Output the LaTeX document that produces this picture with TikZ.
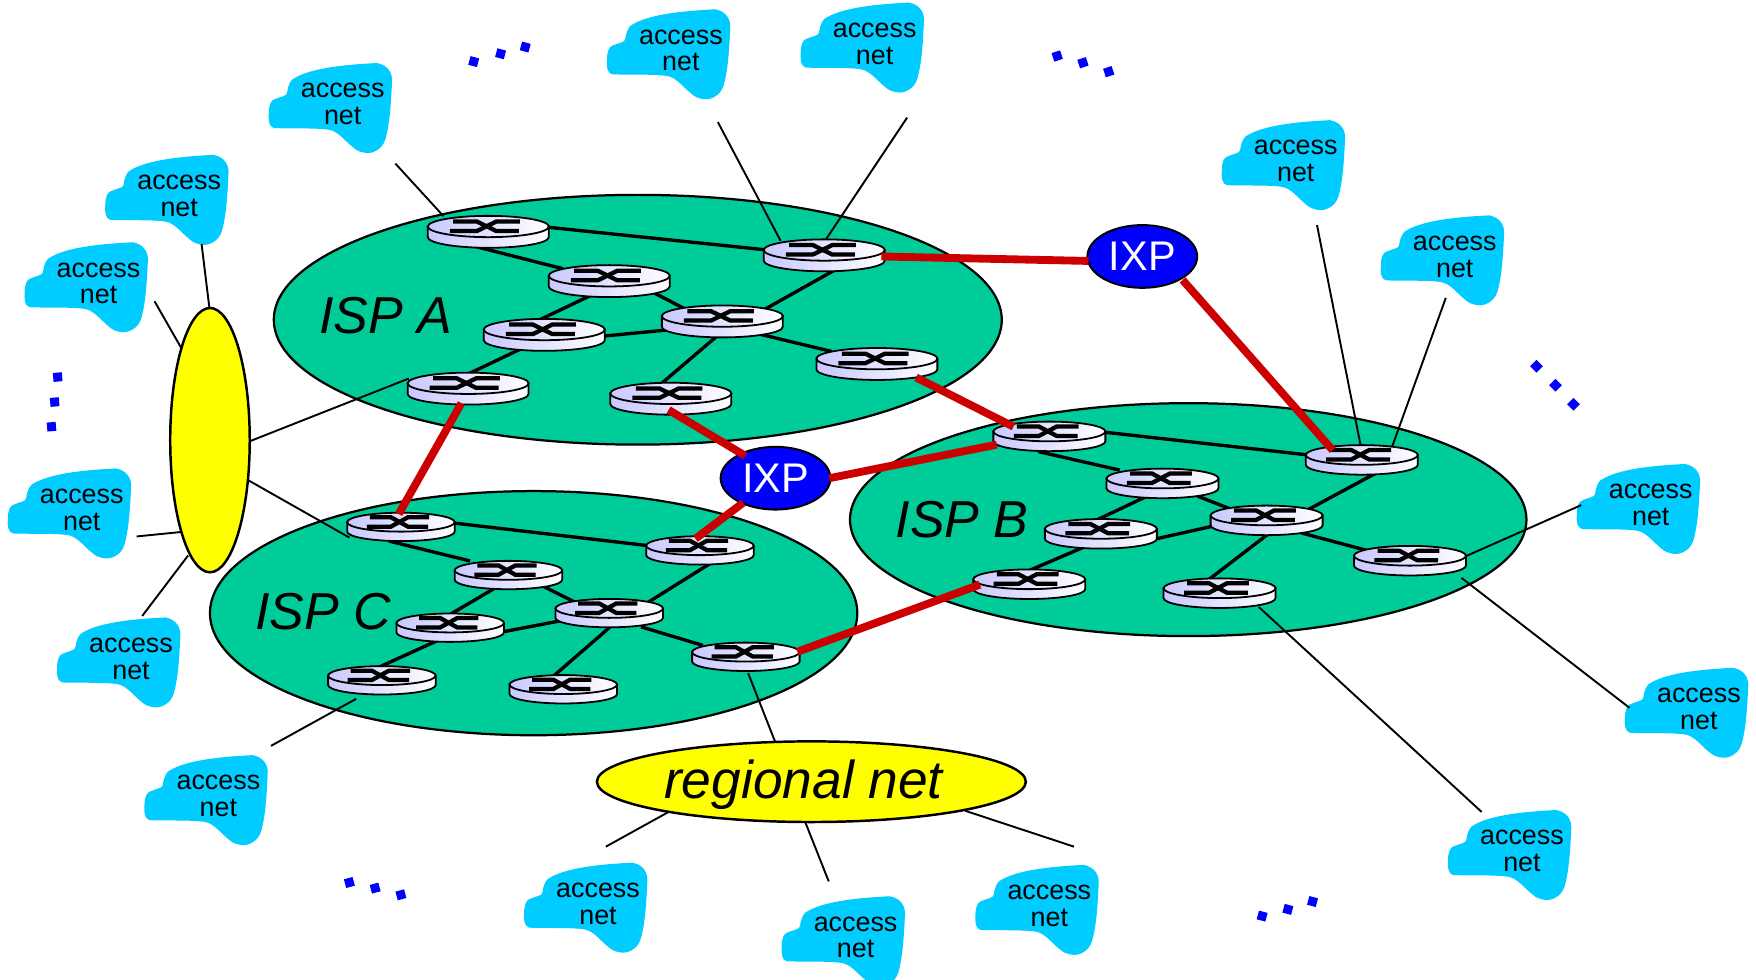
\documentclass[tikz,border=0pt]{standalone}
\usepackage{fontspec}
\setmainfont{Liberation Sans}
\usetikzlibrary{shapes.geometric}
\definecolor{ispgreen}{HTML}{00CC99}
\definecolor{cloudblue}{HTML}{00CCFF}
\definecolor{linkred}{HTML}{CC0000}
\definecolor{routerlav}{HTML}{C8C8FF}
\definecolor{ixpblue}{HTML}{0000FF}
\definecolor{netyellow}{HTML}{FFFF00}
\tikzset{
  ispnet/.style={shape=ellipse,draw=black,line width=1pt,fill=ispgreen,inner sep=0pt},
  yellownet/.style={shape=ellipse,draw=black,line width=1.1pt,fill=netyellow,inner sep=0pt},
  ixpnode/.style={shape=ellipse,draw=black,line width=.9pt,fill=ixpblue,inner sep=0pt,minimum width=49pt,minimum height=28pt,text=white,font=\fontsize{18.5}{18.5}\selectfont},
  isplabel/.style={inner sep=0pt,font=\fontsize{23.2}{23.2}\selectfont\itshape},
  accesslabel/.style={inner sep=0pt,align=center,font=\fontsize{12}{12}\selectfont},
  routerbox/.style={shape=rectangle,inner sep=0pt,minimum height=14.5pt},
  corelink/.style={line width=1.5pt,black,shorten <=-4pt,shorten >=-4pt},
  thinlink/.style={line width=.85pt,black},
  redlink/.style={line width=3.5pt,linkred},
  blueDot/.style={fill=ixpblue,inner sep=0pt,minimum size=4pt,shape=rectangle}
}
\newcommand{\plink}[7]{\draw[#1] ([shift={(#3,#4)}]#2.center) -- ([shift={(#6,#7)}]#5.center);}
% cloud: name, x, y
\newcommand{\accessnet}[3]{%
  \fill[cloudblue,shift={(#2,#3-2)}] (30.6,-32.7) .. controls (40,-31) and (45,-24) .. (44,-15)
    .. controls (43,5) and (42,22) .. (38,35.7)
    .. controls (35,45) and (26,48) .. (21.7,47.6)
    .. controls (15,47) and (12,45) .. (9.8,43)
    .. controls (2,37) and (-4,28) .. (-12.5,26.8)
    .. controls (-25,25) and (-50,26) .. (-61.6,25.3)
    .. controls (-66,24) and (-66.5,18) .. (-66,12)
    .. controls (-66,5) and (-64,1) .. (-61.6,0)
    .. controls (-55,-3) and (-50,-3) .. (-49.7,-6)
    .. controls (-49,-12) and (-47,-16) .. (-45,-18)
    .. controls (-32,-27) and (-5,-31) .. (30.6,-32.7) -- cycle;
  \node[accesslabel] (#1) at (#2,#3+2) {access\\net};}
% router drawing: name, x, y, width
\newcommand{\router}[4]{%
  \pgfmathsetmacro{\rrx}{#4/4}
  \pgfmathsetmacro{\rry}{#4*0.044}
  \pgfmathsetmacro{\runit}{#4/107*0.5}
  \begin{scope}[shift={(#2,#3-4.75)}]
    \shade[draw=black,line width=.8pt,left color=routerlav,right color=white]
      (-\rrx pt,0pt) -- ++(0pt,-\rry pt) arc[start angle=180,end angle=360,x radius=\rrx pt,y radius=\rry pt] -- ++(0pt,\rry pt) -- cycle;
    \shade[draw=black,line width=.8pt,left color=routerlav,right color=white]
      (0pt,0pt) ellipse[x radius=\rrx pt,y radius=\rry pt];
    \draw[line width=1.9pt,black] (-31*\runit pt,2.2pt) -- (-10*\runit pt,2.2pt) -- (7*\runit pt,-2pt) -- (27*\runit pt,-2pt);
    \draw[line width=1.9pt,black] (28*\runit pt,2.2pt) -- (7*\runit pt,2.2pt) -- (-10*\runit pt,-2pt) -- (-34*\runit pt,-2pt);
  \end{scope}}
\begin{document}
\begin{tikzpicture}[x=0.5pt,y=-0.5pt]
\useasboundingbox (0,0) rectangle (1568,875);
\clip (0,0) rectangle (1568,875);

% networks
\node[ispnet,minimum width=325pt,minimum height=111.5pt] (ispA) at (569.5,285.5) {};
\node[ispnet,minimum width=302pt,minimum height=104pt] (ispB) at (1061,464) {};
\node[ispnet,minimum width=289pt,minimum height=109pt] (ispC) at (476.5,547.5) {};
\node[isplabel] (labA) at (344.5,282) {ISP A};
\node[isplabel] (labB) at (859,464) {ISP B};
\node[isplabel] (labC) at (288.5,546) {ISP C};

% free ends of the access links
\coordinate (e1) at (353,146);
\coordinate (e2) at (641,109);
\coordinate (e3) at (810,105);
\coordinate (e4) at (180,218);
\coordinate (e5) at (138,269);
\coordinate (e6) at (122,479);
\coordinate (e7) at (127,550);
\coordinate (e8) at (242,666);
\coordinate (e9) at (541,756);
\coordinate (e10) at (740,787);
\coordinate (e11) at (959,756);
\coordinate (e12) at (1176,201);
\coordinate (e13) at (1291,266);
\coordinate (e14) at (1412,451);
\coordinate (e15) at (1455,632);
\coordinate (e16) at (1323,725);

% clouds
\accessnet{n1}{306}{91}
\accessnet{n2}{608}{43}
\accessnet{n3}{781}{37}
\accessnet{n4}{160}{173}
\accessnet{n5}{88}{251}
\accessnet{n6}{73}{453}
\accessnet{n7}{117}{586}
\accessnet{n8}{195}{709}
\accessnet{n9}{534}{805}
\accessnet{n10}{764}{835}
\accessnet{n11}{937}{807}
\accessnet{n12}{1359}{758}
\accessnet{n13}{1517}{631}
\accessnet{n14}{1474}{449}
\accessnet{n15}{1299}{227}
\accessnet{n16}{1157}{142}

% routers as named nodes
\node[routerbox,minimum width=54pt] (A1) at (436,207) {};
\node[routerbox,minimum width=54pt] (A2) at (544,251) {};
\node[routerbox,minimum width=54pt] (A3) at (645,287) {};
\node[routerbox,minimum width=54pt] (A4) at (486,299) {};
\node[routerbox,minimum width=54pt] (A5) at (736,228) {};
\node[routerbox,minimum width=54pt] (A6) at (783,325) {};
\node[routerbox,minimum width=54pt] (A7) at (418,347) {};
\node[routerbox,minimum width=54pt] (A8) at (599,356) {};
\node[routerbox,minimum width=50pt] (B1) at (937,390) {};
\node[routerbox,minimum width=50pt] (B2) at (1038,432) {};
\node[routerbox,minimum width=50pt] (B3) at (1131,465) {};
\node[routerbox,minimum width=50pt] (B4) at (983,477) {};
\node[routerbox,minimum width=50pt] (B5) at (1216,411) {};
\node[routerbox,minimum width=50pt] (B6) at (1259,501) {};
\node[routerbox,minimum width=50pt] (B7) at (919,522) {};
\node[routerbox,minimum width=50pt] (B8) at (1089,530) {};
\node[routerbox,minimum width=48pt] (C1) at (358,471) {};
\node[routerbox,minimum width=48pt] (C2) at (454,514) {};
\node[routerbox,minimum width=48pt] (C3) at (544,548) {};
\node[routerbox,minimum width=48pt] (C4) at (402,561) {};
\node[routerbox,minimum width=48pt] (C5) at (625,492) {};
\node[routerbox,minimum width=48pt] (C6) at (666,587) {};
\node[routerbox,minimum width=48pt] (C7) at (341,608) {};
\node[routerbox,minimum width=48pt] (C8) at (503,616) {};

% yellow and regional nodes
\node[yellownet,minimum width=35.5pt,minimum height=118pt] (yel) at (187.5,393) {};
\node[yellownet,minimum width=191.5pt,minimum height=36pt] (reg) at (724.5,698) {};
\node[inner sep=0pt,font=\fontsize{23.8}{24}\selectfont\itshape] (regt) at (717.5,701) {regional net};

% core links
\plink{corelink}{A1}{54}{-4}{A5}{-53}{-5}
\plink{corelink}{A1}{-4}{15}{A2}{-49}{-13}
\plink{corelink}{A2}{41}{11}{A3}{-35}{-12}
\plink{corelink}{A3}{-53}{8}{A4}{54}{1}
\plink{corelink}{A2}{-19}{14}{A4}{-3}{-14}
\plink{corelink}{A3}{40}{-12}{A5}{6}{15}
\plink{corelink}{A3}{40}{13}{A6}{-48}{-13}
\plink{corelink}{A3}{-7}{15}{A8}{-9}{-13}
\plink{corelink}{A4}{-24}{14}{A7}{2}{-14}
\plink{corelink}{B1}{50}{-4}{B5}{-50}{-5}
\plink{corelink}{B1}{-2}{15}{B2}{-46}{-14}
\plink{corelink}{B2}{39}{14}{B3}{-31}{-10}
\plink{corelink}{B3}{-49}{5}{B4}{50}{4}
\plink{corelink}{B2}{-20}{14}{B4}{-1}{-14}
\plink{corelink}{B3}{39}{-11}{B5}{6}{15}
\plink{corelink}{B3}{39}{13}{B6}{-44}{-11}
\plink{corelink}{B3}{-4}{16}{B8}{-9}{-13}
\plink{corelink}{B4}{-21}{14}{B7}{1}{-13}
\plink{corelink}{C1}{47}{-4}{C5}{-48}{-5}
\plink{corelink}{C1}{-3}{14}{C2}{-42}{-15}
\plink{corelink}{C2}{36}{12}{C3}{-32}{-11}
\plink{corelink}{C3}{-47}{7}{C4}{48}{3}
\plink{corelink}{C2}{-17}{14}{C4}{1}{-13}
\plink{corelink}{C3}{36}{-11}{C5}{3}{15}
\plink{corelink}{C3}{36}{14}{C6}{-46}{-13}
\plink{corelink}{C3}{-4}{16}{C8}{-8}{-13}
\plink{corelink}{C4}{-18}{14}{C7}{-1}{-13}

% thin links
\draw[thinlink] (e1) -- ([shift={(-40,-14)}]A1.center);
\draw[thinlink] (e2) -- ([shift={(-39,-13)}]A5.center);
\draw[thinlink] (e3) -- ([shift={(2,-15)}]A5.center);
\draw[thinlink] (e4) -- ([shift={(-0.5,-118)}]yel.center);
\draw[thinlink] (e5) -- ([shift={(-25.5,-82)}]yel.center);
\draw[thinlink] (e6) -- ([shift={(-25.5,82)}]yel.center);
\draw[thinlink] (e7) -- ([shift={(-19.5,103)}]yel.center);
\draw[thinlink] ([shift={(35.5,1)}]yel.center) -- ([shift={(-53,-9)}]A7.center);
\draw[thinlink] ([shift={(34.5,36)}]yel.center) -- ([shift={(-46,9)}]C1.center);
\draw[thinlink] (e8) -- ([shift={(-23,16)}]C7.center);
\draw[thinlink] ([shift={(2,14)}]C6.center) -- ([shift={(-32.5,-36)}]reg.center);
\draw[thinlink] (e9) -- ([shift={(-127.5,27)}]reg.center);
\draw[thinlink] (e10) -- ([shift={(-5.5,36)}]reg.center);
\draw[thinlink] (e11) -- ([shift={(137.5,26)}]reg.center);
\draw[thinlink] (e12) -- ([shift={(-1,-13)}]B5.center);
\draw[thinlink] (e13) -- ([shift={(27,-12)}]B5.center);
\draw[thinlink] (e14) -- ([shift={(49,-4)}]B6.center);
\draw[thinlink] (e15) -- ([shift={(46,15)}]B6.center);
\draw[thinlink] (e16) -- ([shift={(35,12)}]B8.center);

% router shapes
\router{A1s}{436}{207}{108}
\router{A2s}{544}{251}{108}
\router{A3s}{645}{287}{108}
\router{A4s}{486}{299}{108}
\router{A5s}{736}{228}{108}
\router{A6s}{783}{325}{108}
\router{A7s}{418}{347}{108}
\router{A8s}{599}{356}{108}
\router{B1s}{937}{390}{100}
\router{B2s}{1038}{432}{100}
\router{B3s}{1131}{465}{100}
\router{B4s}{983}{477}{100}
\router{B5s}{1216}{411}{100}
\router{B6s}{1259}{501}{100}
\router{B7s}{919}{522}{100}
\router{B8s}{1089}{530}{100}
\router{C1s}{358}{471}{96}
\router{C2s}{454}{514}{96}
\router{C3s}{544}{548}{96}
\router{C4s}{402}{561}{96}
\router{C5s}{625}{492}{96}
\router{C6s}{666}{587}{96}
\router{C7s}{341}{608}{96}
\router{C8s}{503}{616}{96}

% IXPs
\node[ixpnode] (ixp1) at (1020,229) {IXP};
\node[ixpnode] (ixp2) at (692.5,427) {IXP};

% red peering links
\plink{redlink}{A5}{51}{1}{ixp1}{-48}{4}
\plink{redlink}{ixp1}{36}{21}{B5}{-26}{-9}
\plink{redlink}{A6}{35}{12}{B1}{-32}{-9}
\plink{redlink}{A8}{-2}{10}{ixp2}{-27}{-20}
\plink{redlink}{ixp2}{-29}{22}{C5}{-4}{-11}
\plink{redlink}{ixp2}{48}{0}{B1}{-47}{7}
\plink{redlink}{A7}{-6}{13}{C1}{-2}{-12}
\plink{redlink}{C6}{46}{-5}{B7}{-44}{0}

% dots
\foreach \i/\px/\py/\a in {1/423/55/-15,2/447/48/-15,3/469/42/-15,4/944/50/18,5/967/56/18,6/990/64/18,7/51.5/336.7/5,8/48.8/359/5,9/46/381/5,10/1372/327/45,11/1389/344/45,12/1405/361/45,13/312/788/15,14/335/793/15,15/358/799/15,16/1127/818/-15,17/1150/812/-15,18/1172/805/-15}
  \node[blueDot,rotate=\a] (dot\i) at (\px,\py) {};
\end{tikzpicture}
\end{document}
